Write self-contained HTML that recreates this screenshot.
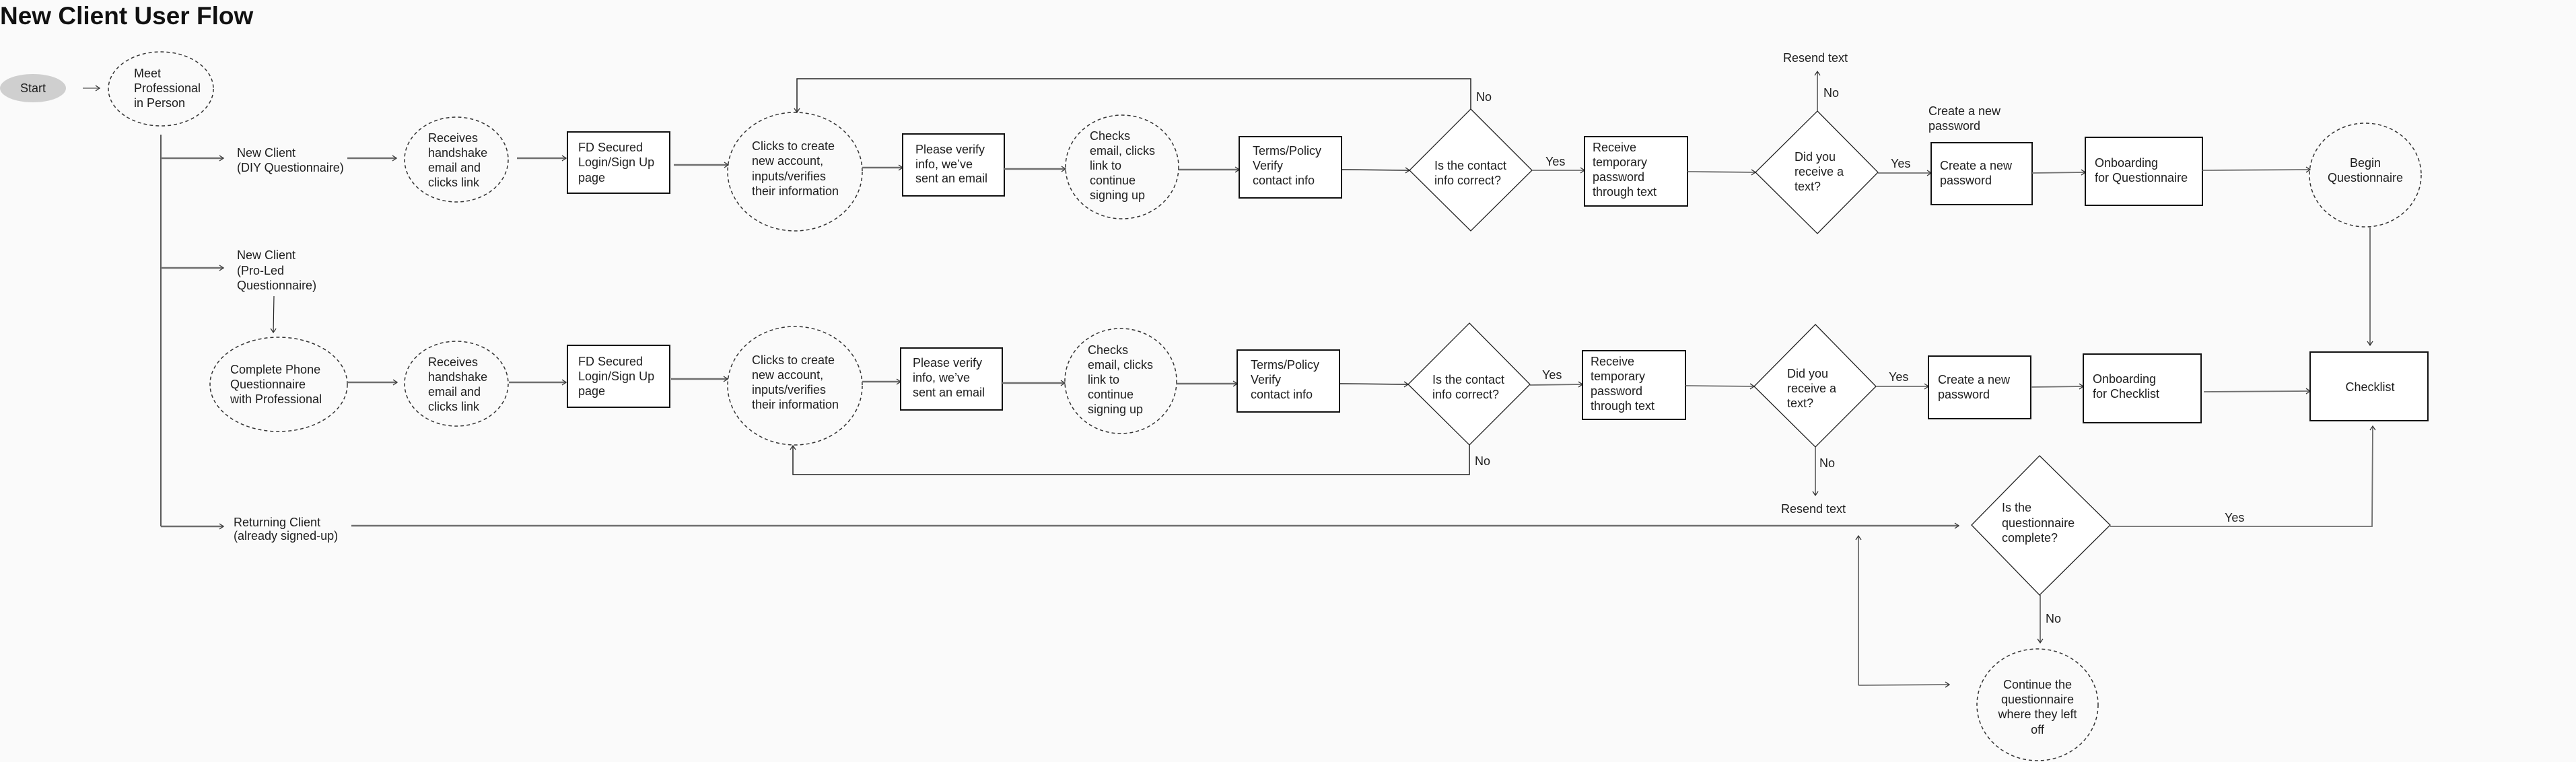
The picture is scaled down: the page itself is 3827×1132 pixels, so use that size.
<!DOCTYPE html>
<html><head><meta charset="utf-8"><style>
html,body{margin:0;padding:0;background:#fafafa;}
svg{display:block;}
text{font-family:"Liberation Sans",sans-serif;font-size:18px;fill:#1e1e1e;}
.c{stroke:#6e6e6e;stroke-width:2.5;fill:none;}
.k{stroke:#222;stroke-width:1.5;fill:none;}
.b{stroke:#111;stroke-width:2;fill:#fff;}
.d{stroke:#222;stroke-width:1.3;fill:#fff;}
.e{stroke:#333;stroke-width:1.5;fill:none;stroke-dasharray:5 4;}
</style></head><body>
<svg width="3827" height="1132" viewBox="0 0 3827 1132" xmlns="http://www.w3.org/2000/svg">
<defs>
<marker id="a" markerWidth="12" markerHeight="12" refX="9" refY="6" orient="auto" markerUnits="userSpaceOnUse">
<path d="M3,2 L9,6 L3,10" fill="none" stroke="#333" stroke-width="1.3"/></marker>
</defs>
<rect width="3827" height="1132" fill="#fafafa"/>
<text x="0" y="36" style="font-size:37px;font-weight:bold;fill:#111">New Client User Flow</text>

<!-- Start -->
<ellipse cx="49" cy="131" rx="49" ry="21" fill="#cfcfcf"/>
<text x="49" y="137" text-anchor="middle">Start</text>
<line class="c" x1="123" y1="131" x2="148" y2="131" marker-end="url(#a)" style="stroke-width:1.5"/>
<ellipse class="e" cx="239" cy="132" rx="78" ry="55"/>
<text x="199" y="115">Meet</text><text x="199" y="137">Professional</text><text x="199" y="159">in Person</text>

<line class="k" x1="239" y1="200" x2="239" y2="782"/>
<line class="c" x1="239" y1="235" x2="332" y2="235" marker-end="url(#a)"/>
<line class="c" x1="239" y1="398" x2="332" y2="398" marker-end="url(#a)"/>
<line class="c" x1="239" y1="782" x2="332" y2="782" marker-end="url(#a)"/>

<text x="352" y="233">New Client</text><text x="352" y="255">(DIY Questionnaire)</text>
<text x="352" y="385">New Client</text><text x="352" y="408">(Pro-Led</text><text x="352" y="430">Questionnaire)</text>
<text x="347" y="782">Returning Client</text><text x="347" y="802">(already signed-up)</text>
<line class="k" x1="407" y1="440" x2="406" y2="494" marker-end="url(#a)" style="stroke-width:1.2"/>

<!-- Row 1 -->
<line class="c" x1="516" y1="235" x2="589" y2="235" marker-end="url(#a)"/>
<ellipse class="e" cx="678" cy="237" rx="77" ry="63"/>
<text x="636" y="211">Receives</text><text x="636" y="233">handshake</text><text x="636" y="255">email and</text><text x="636" y="277">clicks link</text>
<line class="c" x1="768" y1="235" x2="841" y2="235" marker-end="url(#a)"/>
<rect class="b" x="843" y="196" width="152" height="91"/>
<text x="859" y="225">FD Secured</text><text x="859" y="247">Login/Sign Up</text><text x="859" y="270">page</text>
<line class="c" x1="1001" y1="245" x2="1082" y2="245" marker-end="url(#a)"/>
<ellipse class="e" cx="1181" cy="255" rx="100" ry="88"/>
<text x="1117" y="223">Clicks to create</text><text x="1117" y="245">new account,</text><text x="1117" y="268">inputs/verifies</text><text x="1117" y="290">their information</text>
<line class="c" x1="1281" y1="249" x2="1341" y2="249" marker-end="url(#a)"/>
<rect class="b" x="1341" y="199" width="151" height="92"/>
<text x="1360" y="228">Please verify</text><text x="1360" y="250">info, we’ve</text><text x="1360" y="271">sent an email</text>
<line class="c" x1="1492" y1="251" x2="1583" y2="251" marker-end="url(#a)"/>
<ellipse class="e" cx="1667" cy="248" rx="84" ry="77"/>
<text x="1619" y="208">Checks</text><text x="1619" y="230">email, clicks</text><text x="1619" y="252">link to</text><text x="1619" y="274">continue</text><text x="1619" y="296">signing up</text>
<line class="c" x1="1751" y1="252" x2="1841" y2="252" marker-end="url(#a)"/>
<rect class="b" x="1841" y="203" width="152" height="91"/>
<text x="1861" y="230">Terms/Policy</text><text x="1861" y="252">Verify</text><text x="1861" y="274">contact info</text>
<line class="k" x1="1993" y1="252" x2="2094" y2="253" marker-end="url(#a)"/>
<polygon class="d" points="2185,162 2276,253 2185,343 2094,253"/>
<text x="2131" y="252">Is the contact</text><text x="2131" y="274">info correct?</text>
<polyline class="k" points="2185,162 2185,117 1184,117 1184,167" marker-end="url(#a)"/>
<text x="2193" y="150">No</text>
<text x="2296" y="246">Yes</text>
<line class="c" x1="2276" y1="253" x2="2354" y2="253" marker-end="url(#a)" style="stroke-width:1.8"/>
<rect class="b" x="2354" y="203" width="153" height="103"/>
<text x="2366" y="225">Receive</text><text x="2366" y="247">temporary</text><text x="2366" y="269">password</text><text x="2366" y="291">through text</text>
<line class="c" x1="2507" y1="255" x2="2608" y2="256" marker-end="url(#a)" style="stroke-width:1.8"/>
<polygon class="d" points="2700,165 2790,256 2700,347 2608,256"/>
<text x="2666" y="239">Did you</text><text x="2666" y="261">receive a</text><text x="2666" y="283">text?</text>
<line class="k" x1="2700" y1="165" x2="2700" y2="106" marker-end="url(#a)" style="stroke-width:1.2"/>
<text x="2709" y="144">No</text>
<text x="2649" y="92">Resend text</text>
<text x="2809" y="249">Yes</text>
<line class="c" x1="2790" y1="257" x2="2869" y2="257" marker-end="url(#a)" style="stroke-width:1.8"/>
<text x="2865" y="171">Create a new</text><text x="2865" y="193">password</text>
<rect class="b" x="2869" y="212" width="150" height="92"/>
<text x="2882" y="252">Create a new</text><text x="2882" y="274">password</text>
<line class="c" x1="3019" y1="257" x2="3098" y2="256" marker-end="url(#a)" style="stroke-width:1.8"/>
<rect class="b" x="3098" y="204" width="174" height="101"/>
<text x="3112" y="248">Onboarding</text><text x="3112" y="270">for Questionnaire</text>
<line class="c" x1="3272" y1="253" x2="3432" y2="252" marker-end="url(#a)" style="stroke-width:1.8"/>
<ellipse class="e" cx="3514" cy="260" rx="83" ry="77"/>
<text x="3514" y="248" text-anchor="middle">Begin</text><text x="3514" y="270" text-anchor="middle">Questionnaire</text>
<line class="k" x1="3521" y1="338" x2="3521" y2="513" marker-end="url(#a)" style="stroke-width:1.2"/>

<!-- Row 2 -->
<ellipse class="e" cx="414" cy="571" rx="102" ry="70"/>
<text x="342" y="555">Complete Phone</text><text x="342" y="577">Questionnaire</text><text x="342" y="599">with Professional</text>
<line class="c" x1="516" y1="568" x2="590" y2="568" marker-end="url(#a)"/>
<ellipse class="e" cx="678" cy="570" rx="77" ry="63"/>
<text x="636" y="544">Receives</text><text x="636" y="566">handshake</text><text x="636" y="588">email and</text><text x="636" y="610">clicks link</text>
<line class="c" x1="756" y1="568" x2="841" y2="568" marker-end="url(#a)"/>
<rect class="b" x="843" y="513" width="152" height="92"/>
<text x="859" y="543">FD Secured</text><text x="859" y="565">Login/Sign Up</text><text x="859" y="587">page</text>
<line class="c" x1="997" y1="563" x2="1081" y2="563" marker-end="url(#a)"/>
<ellipse class="e" cx="1181" cy="573" rx="100" ry="88"/>
<text x="1117" y="541">Clicks to create</text><text x="1117" y="563">new account,</text><text x="1117" y="585">inputs/verifies</text><text x="1117" y="607">their information</text>
<line class="c" x1="1281" y1="567" x2="1338" y2="567" marker-end="url(#a)"/>
<rect class="b" x="1338" y="517" width="151" height="92"/>
<text x="1356" y="545">Please verify</text><text x="1356" y="567">info, we’ve</text><text x="1356" y="589">sent an email</text>
<line class="c" x1="1489" y1="569" x2="1582" y2="569" marker-end="url(#a)"/>
<ellipse class="e" cx="1665" cy="566" rx="83" ry="78"/>
<text x="1616" y="526">Checks</text><text x="1616" y="548">email, clicks</text><text x="1616" y="570">link to</text><text x="1616" y="592">continue</text><text x="1616" y="614">signing up</text>
<line class="c" x1="1747" y1="570" x2="1838" y2="570" marker-end="url(#a)"/>
<rect class="b" x="1838" y="520" width="152" height="92"/>
<text x="1858" y="548">Terms/Policy</text><text x="1858" y="570">Verify</text><text x="1858" y="592">contact info</text>
<line class="k" x1="1990" y1="570" x2="2092" y2="571" marker-end="url(#a)"/>
<polygon class="d" points="2183,480 2273,571 2183,661 2092,571"/>
<text x="2128" y="570">Is the contact</text><text x="2128" y="592">info correct?</text>
<polyline class="k" points="2183,661 2183,705 1178,705 1178,662" marker-end="url(#a)"/>
<text x="2191" y="691">No</text>
<text x="2291" y="563">Yes</text>
<line class="c" x1="2273" y1="572" x2="2351" y2="571" marker-end="url(#a)" style="stroke-width:1.8"/>
<rect class="b" x="2351" y="521" width="153" height="102"/>
<text x="2363" y="543">Receive</text><text x="2363" y="565">temporary</text><text x="2363" y="587">password</text><text x="2363" y="609">through text</text>
<line class="c" x1="2504" y1="573" x2="2606" y2="574" marker-end="url(#a)" style="stroke-width:1.8"/>
<polygon class="d" points="2697,482 2787,574 2697,664 2606,574"/>
<text x="2655" y="561">Did you</text><text x="2655" y="583">receive a</text><text x="2655" y="605">text?</text>
<line class="k" x1="2697" y1="664" x2="2697" y2="736" marker-end="url(#a)" style="stroke-width:1.2"/>
<text x="2703" y="694">No</text>
<text x="2694" y="762" text-anchor="middle">Resend text</text>
<text x="2806" y="566">Yes</text>
<line class="c" x1="2787" y1="574" x2="2865" y2="574" marker-end="url(#a)" style="stroke-width:1.8"/>
<rect class="b" x="2865" y="529" width="152" height="93"/>
<text x="2879" y="570">Create a new</text><text x="2879" y="592">password</text>
<line class="c" x1="3017" y1="575" x2="3095" y2="574" marker-end="url(#a)" style="stroke-width:1.8"/>
<rect class="b" x="3095" y="526" width="175" height="102"/>
<text x="3109" y="569">Onboarding</text><text x="3109" y="591">for Checklist</text>
<line class="c" x1="3274" y1="582" x2="3432" y2="581" marker-end="url(#a)" style="stroke-width:1.8"/>
<rect class="b" x="3432" y="523" width="175" height="102"/>
<text x="3521" y="581" text-anchor="middle">Checklist</text>

<!-- Returning -->
<line class="c" x1="522" y1="781" x2="2910" y2="781" marker-end="url(#a)"/>
<polygon class="d" points="3030,677 3135,780 3030,884 2929,780"/>
<text x="2974" y="760">Is the</text><text x="2974" y="783">questionnaire</text><text x="2974" y="805">complete?</text>
<polyline class="c" points="3135,782 3524,782 3525,633" marker-end="url(#a)" style="stroke-width:1.8"/>
<text x="3305" y="775">Yes</text>
<line class="k" x1="3031" y1="884" x2="3031" y2="955" marker-end="url(#a)" style="stroke-width:1.2"/>
<text x="3039" y="925">No</text>
<ellipse class="e" cx="3027" cy="1047" rx="90" ry="83"/>
<text x="3027" y="1023" text-anchor="middle">Continue the</text><text x="3027" y="1045" text-anchor="middle">questionnaire</text><text x="3027" y="1067" text-anchor="middle">where they left</text><text x="3027" y="1090" text-anchor="middle">off</text>
<line class="c" x1="2761" y1="1018" x2="2761" y2="796" marker-end="url(#a)" style="stroke-width:1.8"/>
<line class="c" x1="2761" y1="1018" x2="2896" y2="1017" marker-end="url(#a)" style="stroke-width:1.8"/>
</svg>
</body></html>
